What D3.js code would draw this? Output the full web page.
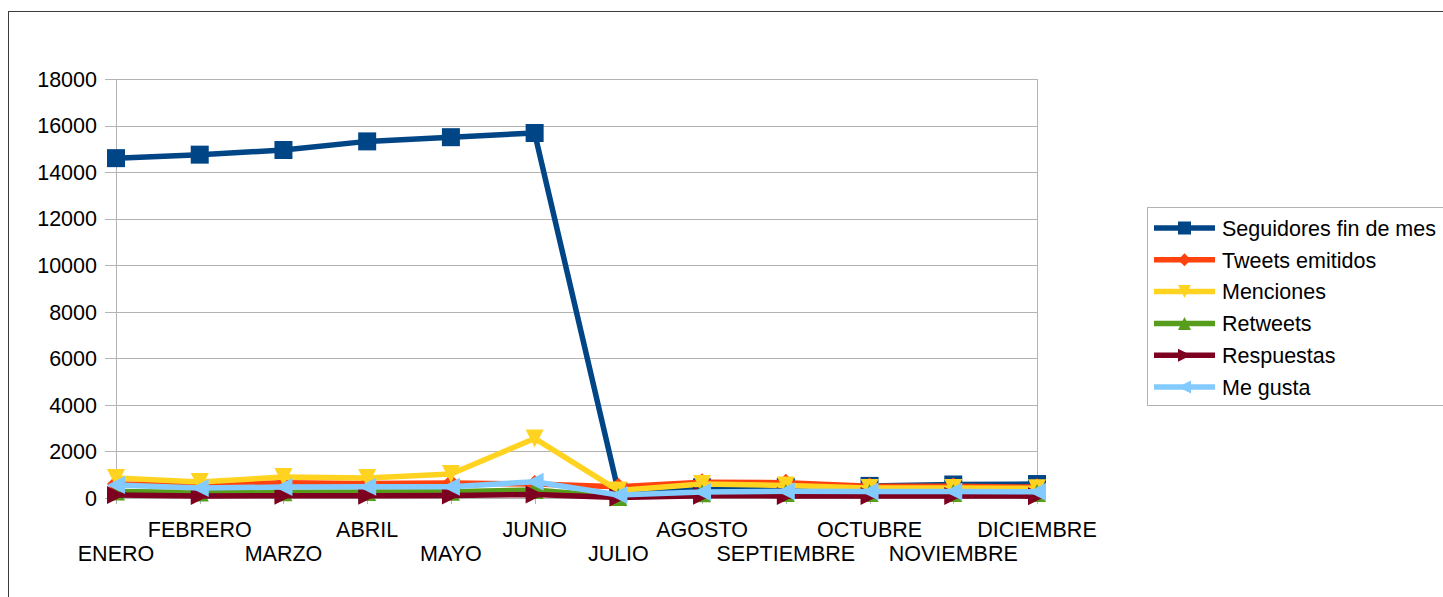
<!DOCTYPE html>
<html>
<head>
<meta charset="utf-8">
<script src="https://cdn.jsdelivr.net/npm/d3@7"></script>
<style>
    body { margin: 0; background: #fff; }
    svg { display: block; font-family: "Liberation Sans", Arial, sans-serif; }
</style>
</head>
<body>
<svg id="chart"></svg>
<script>
// months on the x axis
const months = ["ENERO", "FEBRERO", "MARZO", "ABRIL", "MAYO", "JUNIO", "JULIO",
    "AGOSTO", "SEPTIEMBRE", "OCTUBRE", "NOVIEMBRE", "DICIEMBRE"];

// series values
const seguidores = [14600, 14750, 14950, 15320, 15500, 15680, 280, 460, 470, 520, 580, 600];
const tweets = [600, 560, 650, 620, 640, 600, 480, 680, 660, 500, 500, 470];
const menciones = [860, 690, 900, 860, 1030, 2560, 320, 600, 540, 430, 430, 420];
const retweets = [280, 240, 250, 260, 270, 340, 40, 200, 210, 210, 210, 210];
const respuestas = [130, 90, 100, 100, 110, 150, 20, 100, 90, 90, 90, 80];
const meGusta = [560, 430, 470, 480, 480, 700, 130, 260, 290, 280, 280, 270];

const yTicks = [0, 2000, 4000, 6000, 8000, 10000, 12000, 14000, 16000, 18000];

const seriesNames = ["Seguidores fin de mes", "Tweets emitidos", "Menciones",
    "Retweets", "Respuestas", "Me gusta"];
const seriesData = [seguidores, tweets, menciones, retweets, respuestas, meGusta];
const colors = ["#004586", "#ff420e", "#ffd320", "#579d1c", "#7e0021", "#83caff"];
const shapes = ["square", "diamond", "down", "up", "right", "left"];

const width = 1443, height = 597;
const plot = { left: 116, right: 1037, top: 79, bottom: 498 };
const fontSize = 21.5;

const svg = d3.select("#chart")
    .attr("width", width)
    .attr("height", height);

// outer frame
svg.append("rect")
    .attr("x", 8.5).attr("y", 11.5)
    .attr("width", width).attr("height", height)
    .attr("fill", "none")
    .attr("stroke", "#3c3c3c");

const x = d3.scalePoint()
    .domain(months)
    .range([plot.left, plot.right]);

const y = d3.scaleLinear()
    .domain([0, 18000])
    .range([plot.bottom, plot.top]);

// gridlines + y labels
const yAxis = svg.append("g").attr("class", "y-axis");
yAxis.selectAll("line")
    .data(yTicks)
    .join("line")
    .attr("x1", plot.left - 11).attr("x2", plot.right)
    .attr("y1", d => Math.round(y(d)) + 0.5)
    .attr("y2", d => Math.round(y(d)) + 0.5)
    .attr("stroke", "#b3b3b3");
yAxis.selectAll("text")
    .data(yTicks)
    .join("text")
    .attr("x", 97)
    .attr("y", d => y(d))
    .attr("dy", "0.36em")
    .attr("text-anchor", "end")
    .attr("font-size", fontSize)
    .attr("fill", "#000")
    .text(d => d);

// axis line left and wall border right
svg.append("line")
    .attr("x1", plot.left + 0.5).attr("x2", plot.left + 0.5)
    .attr("y1", plot.top).attr("y2", plot.bottom + 6)
    .attr("stroke", "#b3b3b3");
svg.append("line")
    .attr("x1", plot.right + 0.5).attr("x2", plot.right + 0.5)
    .attr("y1", plot.top).attr("y2", plot.bottom + 6)
    .attr("stroke", "#b3b3b3");

// x ticks + staggered labels
const xAxis = svg.append("g").attr("class", "x-axis");
xAxis.selectAll("line")
    .data(months)
    .join("line")
    .attr("x1", d => Math.round(x(d)) + 0.5)
    .attr("x2", d => Math.round(x(d)) + 0.5)
    .attr("y1", plot.bottom).attr("y2", plot.bottom + 6)
    .attr("stroke", "#b3b3b3");
xAxis.selectAll("text")
    .data(months)
    .join("text")
    .attr("x", d => x(d))
    .attr("y", (d, i) => i % 2 === 0 ? 561 : 537)
    .attr("text-anchor", "middle")
    .attr("font-size", fontSize)
    .attr("fill", "#000")
    .text(d => d);

// marker path for each shape
function markerPath(shape, s) {
    const h = s / 2;
    switch (shape) {
        case "square": return `M${-h},${-h}H${h}V${h}H${-h}Z`;
        case "diamond": return `M0,${-h}L${h},0L0,${h}L${-h},0Z`;
        case "down": return `M${-h},${-h}H${h}L0,${h}Z`;
        case "up": return `M${-h},${h}H${h}L0,${-h}Z`;
        case "right": return `M${-h},${-h}L${h},0L${-h},${h}Z`;
        case "left": return `M${h},${-h}L${-h},0L${h},${h}Z`;
    }
}

const line = d3.line()
    .x((d, i) => x(months[i]))
    .y(d => y(d));

seriesData.forEach((vals, k) => {
    const g = svg.append("g").attr("class", "series-" + k);
    g.append("path")
        .datum(vals)
        .attr("d", line)
        .attr("fill", "none")
        .attr("stroke", colors[k])
        .attr("stroke-width", 5.5)
        .attr("stroke-linejoin", "round");
    g.selectAll(".marker")
        .data(vals)
        .join("path")
        .attr("class", "marker")
        .attr("transform", (d, i) => `translate(${x(months[i])},${y(d)})`)
        .attr("d", markerPath(shapes[k], 18))
        .attr("fill", colors[k]);
});

// legend
const legend = svg.append("g").attr("class", "legend");
legend.append("rect")
    .attr("x", 1147.5).attr("y", 207.5)
    .attr("width", 300).attr("height", 198)
    .attr("fill", "#fff")
    .attr("stroke", "#b3b3b3");

const items = legend.selectAll(".item")
    .data(seriesNames)
    .join("g")
    .attr("class", "item")
    .attr("transform", (d, i) => `translate(0,${228 + i * 31.8})`);
items.append("line")
    .attr("x1", 1154).attr("x2", 1215)
    .attr("stroke", (d, i) => colors[i])
    .attr("stroke-width", 5.5);
items.append("path")
    .attr("transform", "translate(1184.5,0)")
    .attr("d", (d, i) => markerPath(shapes[i], 13))
    .attr("fill", (d, i) => colors[i]);
items.append("text")
    .attr("x", 1222)
    .attr("dy", "0.36em")
    .attr("font-size", fontSize)
    .attr("fill", "#000")
    .text(d => d);
</script>
</body>
</html>
